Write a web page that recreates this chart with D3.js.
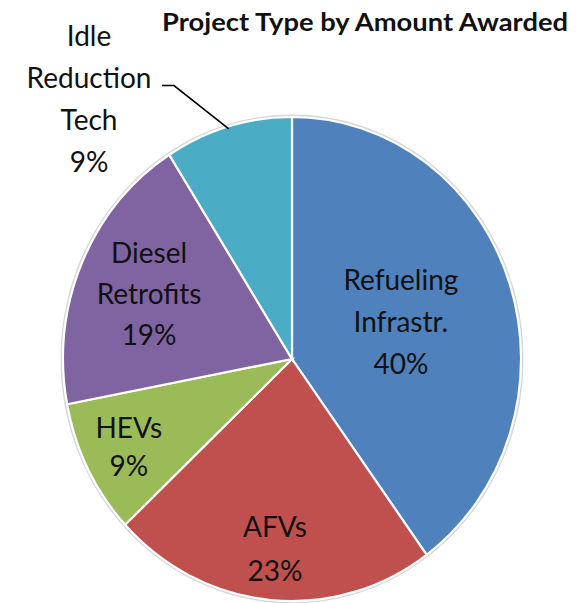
<!DOCTYPE html>
<html><head><meta charset="utf-8">
<script src="https://cdn.jsdelivr.net/npm/d3@7"></script>
<style>
html,body{margin:0;padding:0;background:#fff;}
svg{display:block;}
text{font-family:Lato,"Open Sans",sans-serif;fill:#111;}
</style></head>
<body>
<svg id="chart" width="581" height="603"></svg>
<script>
// ---- data ----
const categories = ["Refueling Infrastr.", "AFVs", "HEVs", "Diesel Retrofits", "Idle Reduction Tech"];
const labelLines = [["Refueling","Infrastr."],["AFVs"],["HEVs"],["Diesel","Retrofits"],["Idle","Reduction","Tech"]];
const values = [40, 23, 9, 19, 9];
const colors = ["#4F81BD", "#C0504D", "#9BBB59", "#8064A2", "#4BACC6"];
const title = "Project Type by Amount Awarded";

// ---- layout ----
const W = 581, H = 603;
const cx = 292, cy = 359, rx = 229, ry = 242;
// label radius fraction per slice (inside labels), Idle label outside with leader
const labelFrac = [0.5, 0.79, 0.8, 0.68, null];
const lineGap = [42, 44, 38, 41, 42];
const fontSize = 28;

const svg = d3.select("#chart");

svg.append("text")
  .attr("x", 365).attr("y", 31)
  .attr("text-anchor", "middle")
  .attr("font-weight", "bold")
  .attr("font-size", 24.5)
  .attr("textLength", 406).attr("lengthAdjust", "spacingAndGlyphs")
  .text(title);

const data = categories.map((c, i) => ({name: c, value: values[i], i}));
const pie = d3.pie().sort(null).value(d => d.value).startAngle(0).endAngle(2 * Math.PI);
const arcs = pie(data);

const g = svg.append("g").attr("transform", `translate(${cx},${cy})`);

// soft outline
g.append("ellipse").attr("rx", rx + 1.5).attr("ry", ry + 1.5)
  .attr("fill", "none").attr("stroke", "#d4d8dc").attr("stroke-width", 2);

const arc = d3.arc().innerRadius(0).outerRadius(1);
const pg = g.append("g").attr("transform", `scale(${rx},${ry})`);
pg.selectAll("path").data(arcs).join("path")
  .attr("d", arc)
  .attr("fill", d => colors[d.data.i])
  .attr("stroke", "#fff")
  .attr("stroke-width", 2.2)
  .attr("vector-effect", "non-scaling-stroke");

const pct = v => Math.round(v / d3.sum(values) * 100) + "%";

function drawLabel(x, yc, lines, gap) {
  const n = lines.length;
  const cap = fontSize * 0.72;
  const t = svg.append("text").attr("text-anchor", "middle").attr("font-size", fontSize);
  lines.forEach((ln, k) => {
    const yb = yc + (k - (n - 1) / 2) * gap + cap / 2;
    t.append("tspan").attr("x", x).attr("y", yb).text(ln);
  });
}

arcs.forEach((a, idx) => {
  const lines = labelLines[idx].concat([pct(a.data.value)]);
  if (labelFrac[idx] != null) {
    const mid = (a.startAngle + a.endAngle) / 2;
    const f = labelFrac[idx];
    const x = cx + Math.sin(mid) * rx * f;
    const y = cy - Math.cos(mid) * ry * f;
    drawLabel(x, y, lines, lineGap[idx]);
  } else {
    // outside label with leader line
    const mid = (a.startAngle + a.endAngle) / 2;
    const ex = cx + Math.sin(mid) * rx * 0.99;
    const ey = cy - Math.cos(mid) * ry * 0.99;
    drawLabel(89, 99, lines, lineGap[idx]);
    svg.append("path")
      .attr("d", `M162,85.5 L174,85.5 L${ex},${ey}`)
      .attr("fill", "none").attr("stroke", "#000").attr("stroke-width", 1.6);
  }
});
</script>
</body></html>
